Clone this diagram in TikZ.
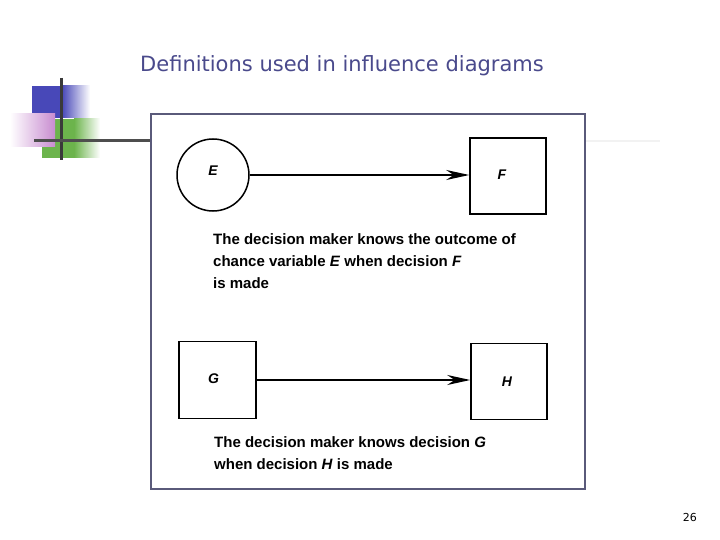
\documentclass[tikz,border=0pt]{standalone}
\usepackage{fontspec}
\setmainfont{Liberation Sans}
\newfontfamily\titlefont{DejaVu Sans}
\usetikzlibrary{arrows.meta,calc}
\definecolor{titleblue}{HTML}{4A4A8C}
\definecolor{decoblue}{HTML}{4848B8}
\definecolor{decogreen}{HTML}{6CB44C}
\definecolor{decopink}{HTML}{C88CD0}
\definecolor{decoline}{HTML}{3A3A3A}
\definecolor{frameline}{HTML}{5A5A7A}
\tikzset{
  chancenode/.style={circle, draw=black, line width=1.5pt, minimum size=72pt, inner sep=0pt, font=\bfseries\itshape\fontsize{14}{16}\selectfont},
  decisionnode/.style={rectangle, draw=black, line width=1.5pt, minimum width=76pt, minimum height=76pt, inner sep=0pt, font=\bfseries\itshape\fontsize{14}{16}\selectfont},
  infoarrow/.style={line width=1.5pt, -{Stealth[length=23pt,width=10pt]}},
  caption/.style={anchor=base west, inner sep=0pt, font=\bfseries\fontsize{15}{18}\selectfont},
}
\begin{document}
\begin{tikzpicture}[x=1pt,y=-1pt]
\useasboundingbox (0,0) rectangle (720,540);
\fill[white] (0,0) rectangle (720,540);
% decoration
\fill[decoblue] (32,86) rectangle (62,118);
\shade[left color=decoblue, right color=white] (62,86) rectangle (90,118);
\fill[decogreen] (42,119) rectangle (74,158);
\shade[left color=decogreen, right color=white] (74,119) rectangle (100,158);
\shade[left color=white, right color=decopink] (10,114) rectangle (55,147);
\draw[decoline, line width=3pt] (61,78) -- (61,160);
\draw[decoline!90, line width=3pt] (34,141) -- (151,141);
\draw[black!5, line width=2pt] (586,141) -- (660,141);
% title
\node[anchor=base west, inner sep=0pt, text=titleblue, font=\titlefont\fontsize{21}{24}\selectfont] (title) at (140,72) {Definitions used in influence diagrams};
% frame
\draw[frameline, line width=1.5pt, fill=white] (151,114) rectangle (585,489);
% upper diagram
\node[chancenode] (E) at (213,175) {\raisebox{8pt}{E}};
\node[decisionnode] (F) at (508,176) {\raisebox{3pt}{F}\hspace*{12pt}};
\draw[infoarrow] (E.east) -- (E.east -| F.west);
\node[caption] (c1) at (213,244) {The decision maker knows the outcome of};
\node[caption] (c2) at (213,266) {chance variable \textit{E} when decision \textit{F}};
\node[caption] (c3) at (213,288) {is made};
% lower diagram
\node[decisionnode, minimum width=77pt, minimum height=77pt] (G) at (217.5,380) {\raisebox{3pt}{G}\hspace*{8pt}};
\node[decisionnode] (H) at (509,381.5) {\raisebox{-2pt}{H}\hspace*{4pt}};
\draw[infoarrow] (G.east) -- (G.east -| H.west);
\node[caption] (c4) at (214,447) {The decision maker knows decision \textit{G}};
\node[caption] (c5) at (214,469) {when decision \textit{H} is made};
% page number
\node[anchor=base east, inner sep=0pt, font=\titlefont\fontsize{11}{13}\selectfont] (page) at (697,521) {26};
\end{tikzpicture}
\end{document}
